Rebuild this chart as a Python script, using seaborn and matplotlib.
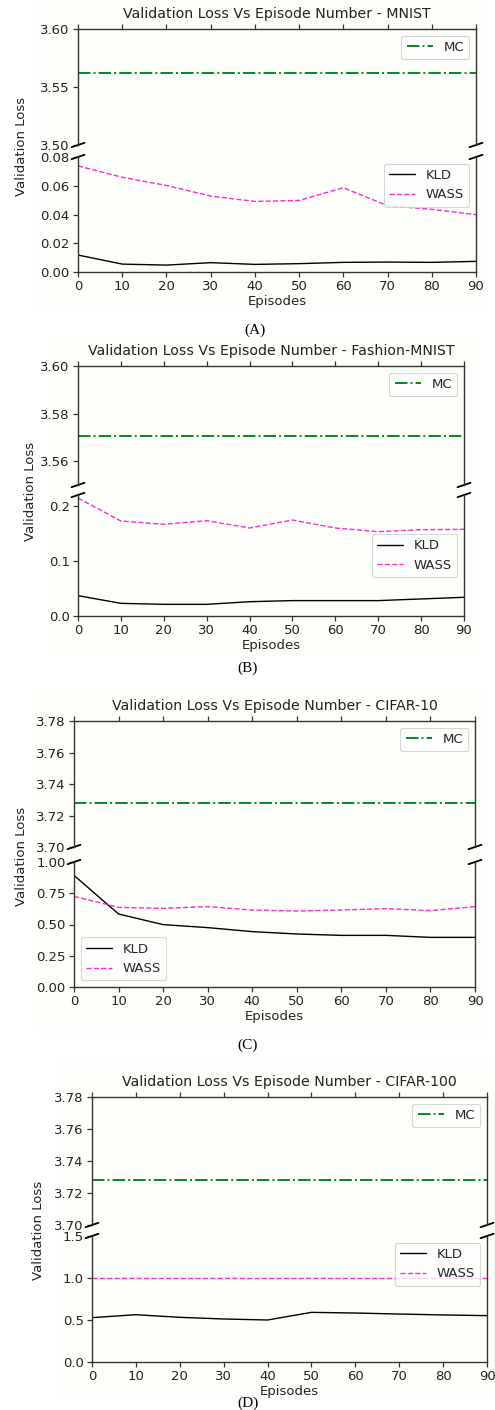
import numpy as np
import pandas as pd
import matplotlib
matplotlib.use("Agg")
import matplotlib.pyplot as plt
import seaborn as sns
from matplotlib.patches import Rectangle

sns.set_style("ticks")
plt.rcParams['font.family'] = ['DejaVu Sans']

# ---------------- data ----------------
episodes = [0, 10, 20, 30, 40, 50, 60, 70, 80, 90]

titles = ["Validation Loss Vs Episode Number - MNIST",
          "Validation Loss Vs Episode Number - Fashion-MNIST",
          "Validation Loss Vs Episode Number - CIFAR-10",
          "Validation Loss Vs Episode Number - CIFAR-100"]
captions = ["(A)", "(B)", "(C)", "(D)"]

mnist_kld = [0.0118, 0.0055, 0.0048, 0.0065, 0.0053, 0.0058, 0.0067, 0.0069, 0.0067, 0.0074]
mnist_wass = [0.0738, 0.0659, 0.0602, 0.0528, 0.0491, 0.0498, 0.0586, 0.0461, 0.0436, 0.0399]
mnist_mc = 3.5625

fmnist_kld = [0.037, 0.023, 0.0212, 0.0212, 0.026, 0.028, 0.028, 0.028, 0.031, 0.034]
fmnist_wass = [0.2145, 0.1727, 0.1667, 0.1733, 0.160, 0.1745, 0.160, 0.1533, 0.157, 0.1576]
fmnist_mc = 3.5705

cifar10_kld = [0.893, 0.584, 0.499, 0.475, 0.443, 0.424, 0.413, 0.413, 0.397, 0.397]
cifar10_wass = [0.725, 0.637, 0.629, 0.643, 0.616, 0.608, 0.616, 0.627, 0.611, 0.643]
cifar10_mc = 3.728

cifar100_kld = [0.528, 0.563, 0.532, 0.512, 0.500, 0.591, 0.583, 0.571, 0.560, 0.552]
cifar100_wass = [1.0, 1.0, 1.0, 1.0, 1.0, 1.0, 1.0, 1.0, 1.0, 1.0]
cifar100_mc = 3.728

kld_sets = [mnist_kld, fmnist_kld, cifar10_kld, cifar100_kld]
wass_sets = [mnist_wass, fmnist_wass, cifar10_wass, cifar100_wass]
mc_vals = [mnist_mc, fmnist_mc, cifar10_mc, cifar100_mc]

top_ylims = [(3.50, 3.60), (3.55, 3.60), (3.70, 3.78), (3.70, 3.78)]
top_yticks = [[3.50, 3.55, 3.60], [3.56, 3.58, 3.60],
              [3.70, 3.72, 3.74, 3.76, 3.78], [3.70, 3.72, 3.74, 3.76, 3.78]]
bot_ylims = [(0, 0.08), (0, 0.22), (0, 1.0), (0, 1.5)]
bot_yticks = [[0, 0.02, 0.04, 0.06, 0.08], [0.0, 0.1, 0.2],
              [0, 0.25, 0.5, 0.75, 1.0], [0.0, 0.5, 1.0, 1.5]]
top_fmt = ["{:.2f}", "{:.2f}", "{:.2f}", "{:.2f}"]
bot_fmt = ["{:.2f}", "{:.1f}", "{:.2f}", "{:.1f}"]
bot_legend_loc = ["upper right", "center right", "lower left", "upper right"]

# ---------------- layout (pixels) ----------------
W, H = 495, 1410
# x_left, x_right, top_top, top_bottom, bot_top, bot_bottom
boxes = [(78, 476, 29, 145, 157, 272),
         (78, 464, 366, 485, 495, 616),
         (74, 475, 721, 847, 862, 987),
         (92, 487, 1097, 1225, 1236, 1362)]
bg_boxes = [(38, 0, 485, 312), (50, 336, 475, 656), (35, 690, 487, 1034), (55, 1062, 495, 1398)]
ylabel_pos = [(22, 146), (30, 491), (22, 856), (38, 1230)]
caption_y = [330, 668, 1045, 1410]
caption_va = ["center", "center", "center", "bottom"]
caption_x = [255, 248, 248, 248]

fig = plt.figure(figsize=(W / 100, H / 100), dpi=100)
fig.patch.set_facecolor("white")

def frac_rect(xl, xr, yt, yb):
    return [xl / W, 1 - yb / H, (xr - xl) / W, (yb - yt) / H]

cream = "#fefefa"
spine_c = "#333333"
green = "#008a1e"
pink = "#ff2ad0"
fs = 9.5

for (x0, y0, x1, y1) in bg_boxes:
    fig.patches.append(Rectangle((x0 / W, 1 - y1 / H), (x1 - x0) / W, (y1 - y0) / H,
                                 transform=fig.transFigure, facecolor=cream,
                                 edgecolor="none", zorder=-10))

for i in range(4):
    xl, xr, tt, tb, bt, bb = boxes[i]
    ax_t = fig.add_axes(frac_rect(xl, xr, tt, tb))
    ax_b = fig.add_axes(frac_rect(xl, xr, bt, bb))
    for ax in (ax_t, ax_b):
        ax.set_facecolor(cream)
        for s in ax.spines.values():
            s.set_color(spine_c)
            s.set_linewidth(1.0)
        ax.tick_params(colors=spine_c, labelcolor="#222222", labelsize=fs,
                       width=0.9, length=3.5, direction="out", pad=2.5)

    df = pd.DataFrame({"Episodes": episodes, "KLD": kld_sets[i], "WASS": wass_sets[i],
                       "MC": [mc_vals[i]] * len(episodes)})

    sns.lineplot(data=df, x="Episodes", y="MC", ax=ax_t, color=green,
                 linestyle="-.", linewidth=1.4, label="MC")
    sns.lineplot(data=df, x="Episodes", y="KLD", ax=ax_b, color="black",
                 linestyle="-", linewidth=1.0, label="KLD")
    sns.lineplot(data=df, x="Episodes", y="WASS", ax=ax_b, color=pink,
                 linestyle="--", linewidth=1.0, label="WASS")

    ax_t.set_xlim(0, 90)
    ax_b.set_xlim(0, 90)
    ax_t.set_ylim(*top_ylims[i])
    ax_b.set_ylim(*bot_ylims[i])
    ax_t.set_yticks(top_yticks[i])
    ax_t.set_yticklabels([top_fmt[i].format(v) for v in top_yticks[i]])
    ax_b.set_yticks(bot_yticks[i])
    ax_b.set_yticklabels([bot_fmt[i].format(v) for v in bot_yticks[i]])
    ax_t.set_xticks(episodes)
    ax_b.set_xticks(episodes)

    ax_t.spines["bottom"].set_visible(False)
    ax_b.spines["top"].set_visible(False)
    ax_t.xaxis.tick_top()
    ax_t.tick_params(labeltop=False, top=True, bottom=False)
    ax_b.xaxis.tick_bottom()

    ax_t.set_xlabel("")
    ax_t.set_ylabel("")
    ax_b.set_ylabel("")
    ax_b.set_xlabel("Episodes", fontsize=fs, color="#222222", labelpad=1.5)
    ax_t.set_title(titles[i], fontsize=10.2, color="#222222", pad=8)

    for ax, loc in ((ax_t, "upper right"), (ax_b, bot_legend_loc[i])):
        leg = ax.legend(loc=loc, fontsize=fs, frameon=True, fancybox=True,
                        handlelength=2.0, borderpad=0.4, labelspacing=0.5)
        leg.get_frame().set_edgecolor("#cccccc")
        leg.get_frame().set_linewidth(0.8)
        leg.get_frame().set_facecolor("white")

    # break marks
    wpx = xr - xl
    h_t = tb - tt
    h_b = bb - bt
    dx = 6.5 / wpx
    dyt = 2.2 / h_t
    dyb = 2.2 / h_b
    kw = dict(color="black", clip_on=False, linewidth=1.3)
    ax_t.plot((-dx, dx), (-dyt, dyt), transform=ax_t.transAxes, **kw)
    ax_t.plot((1 - dx, 1 + dx), (-dyt, dyt), transform=ax_t.transAxes, **kw)
    ax_b.plot((-dx, dx), (1 - dyb, 1 + dyb), transform=ax_b.transAxes, **kw)
    ax_b.plot((1 - dx, 1 + dx), (1 - dyb, 1 + dyb), transform=ax_b.transAxes, **kw)

    lx, ly = ylabel_pos[i]
    fig.text(lx / W, 1 - ly / H, "Validation Loss", rotation=90, ha="center",
             va="center", fontsize=fs, color="#222222")
    fig.text(caption_x[i] / W, 1 - caption_y[i] / H, captions[i], ha="center",
             va=caption_va[i], fontsize=11, family=["Liberation Serif", "DejaVu Serif"],
             color="black")

fig.savefig("out.png", dpi=100, facecolor="white")
